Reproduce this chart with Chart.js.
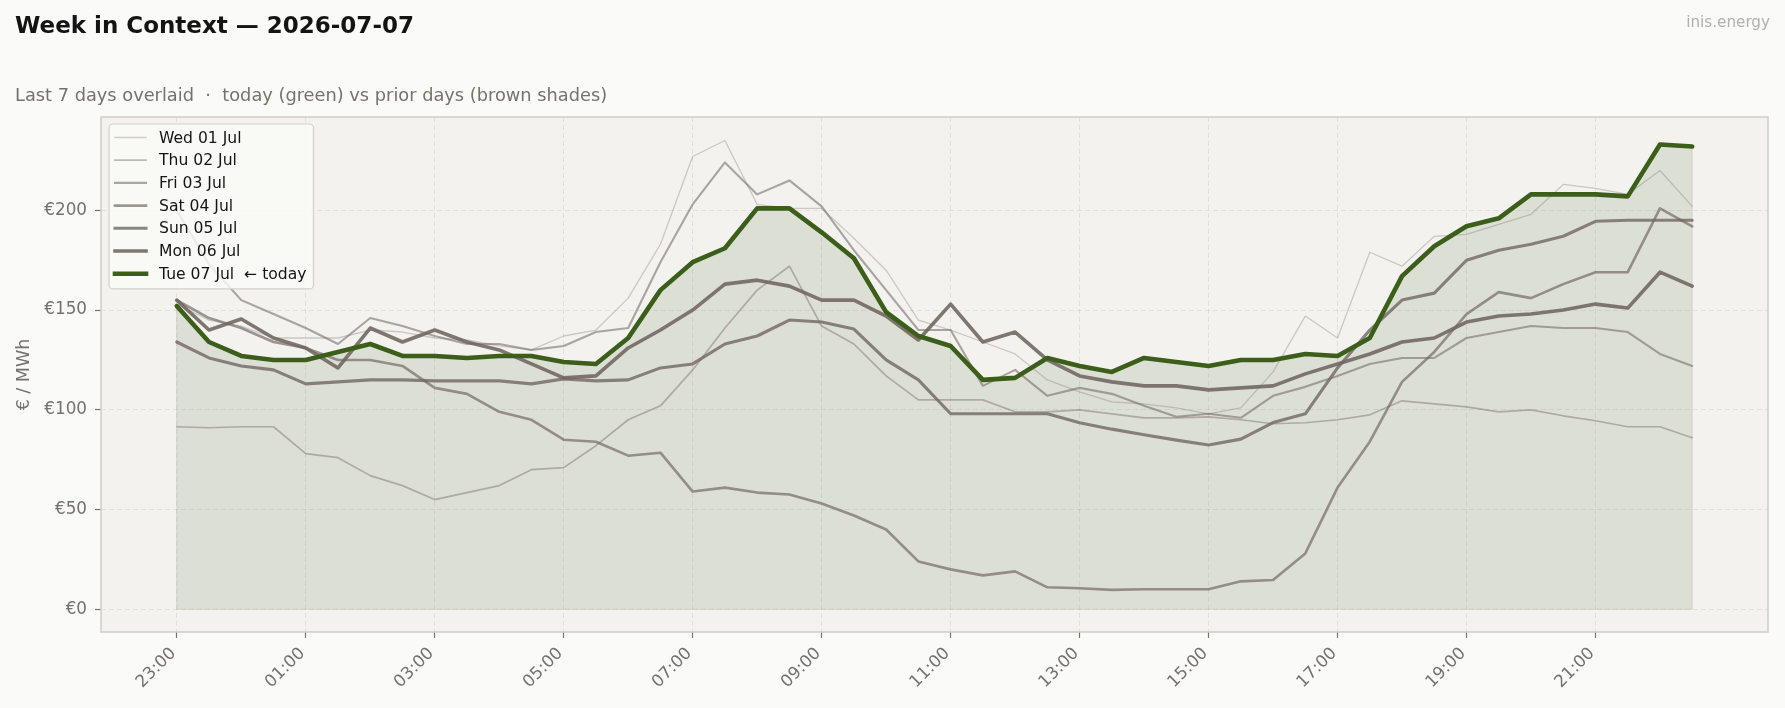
<!DOCTYPE html>
<html>
<head>
<meta charset="utf-8">
<title>Week in Context — 2026-07-07</title>
<script src="https://cdn.jsdelivr.net/npm/chart.js@4.4.1/dist/chart.umd.min.js"></script>
<style>
    html, body { margin: 0; padding: 0; background: #fafaf8; }
    #wrap { position: relative; width: 1785px; height: 708px; }
</style>
</head>
<body>
<div id="wrap"><canvas id="weekChart"></canvas></div>
<script>
(function (global) {
    'use strict';

    // half-hour slots, 23:00 of the day before through 22:30
    var SLOTS = [
        '23:00', '23:30', '00:00', '00:30', '01:00', '01:30', '02:00', '02:30',
        '03:00', '03:30', '04:00', '04:30', '05:00', '05:30', '06:00', '06:30',
        '07:00', '07:30', '08:00', '08:30', '09:00', '09:30', '10:00', '10:30',
        '11:00', '11:30', '12:00', '12:30', '13:00', '13:30', '14:00', '14:30',
        '15:00', '15:30', '16:00', '16:30', '17:00', '17:30', '18:00', '18:30',
        '19:00', '19:30', '20:00', '20:30', '21:00', '21:30', '22:00', '22:30'
    ];

    var X_TICK_LABELS = ['23:00', '01:00', '03:00', '05:00', '07:00', '09:00',
        '11:00', '13:00', '15:00', '17:00', '19:00', '21:00'];
    var Y_TICKS = [0, 50, 100, 150, 200];

    var DAY_LABELS = ['Wed 01 Jul', 'Thu 02 Jul', 'Fri 03 Jul', 'Sat 04 Jul',
        'Sun 05 Jul', 'Mon 06 Jul', 'Tue 07 Jul  \u2190 today'];

    // €/MWh per slot
    var WED_01 = [153, 145, 142, 136, 136, 136, 140, 139, 136, 135, 132, 130,
        137, 140, 156, 183, 227, 235, 203, 201, 201, 186, 170, 145,
        140, 134, 128, 115, 109, 104, 103, 101, 98, 101, 119, 147,
        136, 179, 172, 187, 188, 193, 198, 213, 211, 208, 220, 202];
    var THU_02 = [91.5, 91, 91.5, 91.5, 78, 76, 67, 62, 55, 58.5, 62, 70,
        71, 82, 95, 102, 120, 141, 160, 172, 142, 133, 117, 105,
        105, 105, 99, 99, 100, 98, 96, 96, 96.5, 95, 93, 93.5,
        95, 97.5, 104.5, 103, 101.5, 99, 100, 97, 94.5, 91.5, 91.5, 86];
    var FRI_03 = [200, 173, 155, 148, 141, 133, 146, 142, 137, 133, 133, 130,
        132, 139, 141, 174, 203, 224, 208, 215, 202, 180, 160, 140,
        140, 112, 120, 107, 111, 108, 102, 96.5, 98, 96, 107, 111.5,
        117, 123, 126, 126, 136, 139, 142, 141, 141, 139, 128, 122];
    var SAT_04 = [155, 146, 141, 134, 131, 125, 125, 122, 111, 108, 99, 95,
        85, 84, 77, 78.5, 59, 61, 58.5, 57.5, 53, 47, 40, 24,
        20, 17, 19, 11, 10.5, 9.7, 10, 10, 10, 14, 14.7, 28,
        61, 84, 114, 129, 148, 159, 156, 163, 169, 169, 201, 192];
    var SUN_05 = [134, 126, 122, 120, 113, 114, 115, 115, 114.5, 114.5, 114.5, 113,
        115.5, 114.5, 115, 121, 123, 133, 137, 145, 144, 140.5, 125, 115,
        98, 98, 98, 98, 93.5, 90.3, 87.5, 84.8, 82.4, 85.3, 93.6, 98,
        121, 140, 155, 158.5, 175, 180, 183, 187, 194.5, 195, 195, 195];
    var MON_06 = [155, 140, 145.5, 136, 131, 121, 141, 134, 140, 134, 130, 123,
        116, 117, 131, 140, 150, 163, 165, 162, 155, 155, 147, 135,
        153, 134, 139, 125, 117, 114, 112, 112, 110, 111, 112, 118,
        123, 128, 134, 136, 144, 147, 148, 150, 153, 151, 169, 162];
    var TUE_07 = [152, 134, 127, 125, 125, 129, 133, 127, 127, 126, 127, 127,
        124, 123, 136, 160, 174, 181, 201, 201, 189, 176, 149, 137,
        132, 115, 116, 126, 122, 119, 126, 124, 122, 125, 125, 128,
        127, 136, 167, 182, 192, 196, 208, 208, 208, 207, 233, 232];

    var DAY_VALUES = [WED_01, THU_02, FRI_03, SAT_04, SUN_05, MON_06, TUE_07];

    // styles: older days lighter and thinner
    var LINE_COLORS = [
        'rgba(112, 102, 96, 0.30)',
        'rgba(112, 102, 96, 0.43)',
        'rgba(112, 102, 96, 0.56)',
        'rgba(112, 102, 96, 0.68)',
        'rgba(112, 102, 96, 0.80)',
        'rgba(112, 102, 96, 0.89)',
        '#3b5e1b'
    ];
    var LINE_WIDTHS = [1.3, 1.7, 2.1, 2.6, 3.1, 3.6, 4.6];
    var TODAY_FILL = 'rgba(61, 95, 28, 0.125)';

    var FONT = '"DejaVu Sans", "Noto Sans", sans-serif';
    var PAGE_BG = '#fafaf8';
    var PLOT_BG = '#f3f2ee';
    var FRAME = '#d1cdc6';
    var MUTED = '#77716c';
    var GRID = 'rgba(190, 184, 172, 0.35)';
    var TICK_COLOR = '#7a7470';

    var TICK_FONT = 16.8;
    var X_LABEL_PAD = 6;

    function buildDatasets() {
        var sets = [];
        for (var d = 0; d < DAY_VALUES.length; d++) {
            var pts = [];
            for (var i = 0; i < DAY_VALUES[d].length; i++) {
                pts.push({ x: i, y: DAY_VALUES[d][i] });
            }
            var isToday = d === DAY_VALUES.length - 1;
            sets.push({
                label: DAY_LABELS[d],
                data: pts,
                borderColor: LINE_COLORS[d],
                borderWidth: LINE_WIDTHS[d],
                backgroundColor: isToday ? TODAY_FILL : 'transparent',
                fill: isToday ? 'origin' : false,
                pointRadius: 0,
                tension: 0,
                borderJoinStyle: 'round',
                borderCapStyle: 'round',
                order: DAY_VALUES.length - 1 - d
            });
        }
        return sets;
    }

    // page background, plot panel, frame, titles, rotated x labels
    var pagePlugin = {
        id: 'pagePlugin',
        beforeDraw: function (chart) {
            var ctx = chart.ctx;
            var a = chart.chartArea;
            ctx.save();
            ctx.fillStyle = PAGE_BG;
            ctx.fillRect(0, 0, chart.width, chart.height);
            ctx.fillStyle = PLOT_BG;
            ctx.fillRect(a.left, a.top, a.right - a.left, a.bottom - a.top);
            ctx.restore();
        },
        afterDatasetsDraw: function (chart) {
            // faint outline on the sides and base of today's shaded area
            var ctx = chart.ctx;
            var xs = chart.scales.x;
            var ys = chart.scales.y;
            var last = TUE_07.length - 1;
            var x0 = xs.getPixelForValue(0);
            var x1 = xs.getPixelForValue(last);
            var yb = ys.getPixelForValue(0);
            ctx.save();
            ctx.strokeStyle = TODAY_FILL;
            ctx.lineWidth = 1.2;
            ctx.beginPath();
            ctx.moveTo(x0, ys.getPixelForValue(TUE_07[0]));
            ctx.lineTo(x0, yb);
            ctx.lineTo(x1, yb);
            ctx.lineTo(x1, ys.getPixelForValue(TUE_07[last]));
            ctx.stroke();
            ctx.restore();
        },
        afterDraw: function (chart) {
            var ctx = chart.ctx;
            var a = chart.chartArea;
            ctx.save();

            ctx.strokeStyle = FRAME;
            ctx.lineWidth = 1.5;
            ctx.strokeRect(a.left, a.top, a.right - a.left, a.bottom - a.top);

            ctx.textBaseline = 'alphabetic';
            ctx.fillStyle = '#141414';
            ctx.font = 'bold 23px ' + FONT;
            ctx.textAlign = 'left';
            ctx.fillText('Week in Context \u2014 2026-07-07', 15, 33);

            ctx.fillStyle = MUTED;
            ctx.font = '17.8px ' + FONT;
            ctx.fillText('Last 7 days overlaid  \u00b7  today (green) vs prior days (brown shades)', 15, 101);

            ctx.fillStyle = '#b4b0ac';
            ctx.font = '15.2px ' + FONT;
            ctx.textAlign = 'right';
            ctx.fillText('inis.energy', 1770, 27);

            // y axis title
            ctx.save();
            ctx.translate(24, (a.top + a.bottom) / 2);
            ctx.rotate(-Math.PI / 2);
            ctx.textAlign = 'center';
            ctx.textBaseline = 'middle';
            ctx.fillStyle = MUTED;
            ctx.font = '17.5px ' + FONT;
            ctx.fillText('\u20ac / MWh', 0, 0);
            ctx.restore();

            // x tick labels, right end anchored under the tick
            var xs = chart.scales.x;
            var h = TICK_FONT * 1.16;
            var y0 = a.bottom + xs.options.grid.tickLength + X_LABEL_PAD;
            ctx.font = TICK_FONT + 'px ' + FONT;
            ctx.fillStyle = MUTED;
            ctx.textAlign = 'right';
            ctx.textBaseline = 'middle';
            for (var i = 0; i < xs.ticks.length; i++) {
                var px = xs.getPixelForValue(xs.ticks[i].value);
                ctx.save();
                ctx.translate(px - 0.354 * h + 3.5, y0 + 0.354 * h);
                ctx.rotate(-Math.PI / 4);
                ctx.fillText(SLOTS[xs.ticks[i].value], 0, 0);
                ctx.restore();
            }
            ctx.restore();
        }
    };

    // legend box inside the plot, top left
    var legendPlugin = {
        id: 'legendBox',
        afterDatasetsDraw: function (chart) {
            var ctx = chart.ctx;
            var a = chart.chartArea;
            var sets = chart.data.datasets;
            var left = a.left + 8;
            var top = a.top + 7;
            var rowH = 22.7;
            var textX = left + 50;
            ctx.save();
            ctx.font = '15.6px ' + FONT;
            var maxW = 0;
            for (var i = 0; i < sets.length; i++) {
                maxW = Math.max(maxW, ctx.measureText(sets[i].label).width);
            }
            var w = textX - left + maxW + 7;
            var h = rowH * sets.length + 6;

            ctx.beginPath();
            if (ctx.roundRect) {
                ctx.roundRect(left, top, w, h, 4);
            } else {
                ctx.rect(left, top, w, h);
            }
            ctx.fillStyle = 'rgba(250, 250, 248, 0.82)';
            ctx.fill();
            ctx.strokeStyle = '#d5d1ca';
            ctx.lineWidth = 1.2;
            ctx.stroke();

            for (var j = 0; j < sets.length; j++) {
                var cy = top + 13.5 + j * rowH;
                ctx.beginPath();
                ctx.moveTo(left + 6, cy);
                ctx.lineTo(left + 37, cy);
                ctx.lineCap = 'square';
                ctx.strokeStyle = sets[j].borderColor;
                ctx.lineWidth = sets[j].borderWidth;
                ctx.stroke();

                ctx.fillStyle = '#151515';
                ctx.textAlign = 'left';
                ctx.textBaseline = 'middle';
                ctx.fillText(sets[j].label, textX, cy + 1);
            }
            ctx.restore();
        }
    };

    var canvas = document.getElementById('weekChart');
    var chart = new Chart(canvas.getContext('2d'), {
        type: 'line',
        data: { datasets: buildDatasets() },
        options: {
            responsive: true,
            maintainAspectRatio: false,
            animation: false,
            devicePixelRatio: 1,
            layout: { padding: { left: 0, right: 17, top: 117, bottom: 0 } },
            plugins: {
                legend: { display: false },
                tooltip: { enabled: false },
                filler: { drawTime: 'beforeDatasetsDraw' }
            },
            scales: {
                x: {
                    type: 'linear',
                    min: -2.35,
                    max: 49.35,
                    afterBuildTicks: function (scale) {
                        scale.ticks = X_TICK_LABELS.map(function (l) {
                            return { value: SLOTS.indexOf(l) };
                        });
                    },
                    afterFit: function (scale) { scale.height = 76; },
                    grid: {
                        color: GRID,
                        lineWidth: 0.9,
                        drawTicks: true,
                        tickLength: 6,
                        tickWidth: 1.2,
                        tickColor: TICK_COLOR,
                        tickBorderDash: []
                    },
                    border: { display: false, dash: [5, 3] },
                    ticks: { display: false, autoSkip: false }
                },
                y: {
                    min: -11.4,
                    max: 246.8,
                    afterBuildTicks: function (scale) {
                        scale.ticks = Y_TICKS.map(function (v) { return { value: v }; });
                    },
                    afterFit: function (scale) { scale.width = 101; },
                    grid: {
                        color: GRID,
                        lineWidth: 0.9,
                        drawTicks: true,
                        tickLength: 6,
                        tickWidth: 1.2,
                        tickColor: TICK_COLOR,
                        tickBorderDash: []
                    },
                    border: { display: false, dash: [5, 3] },
                    ticks: {
                        padding: 8,
                        color: MUTED,
                        font: { family: FONT, size: TICK_FONT },
                        callback: function (v) { return '\u20ac' + v; }
                    }
                }
            }
        },
        plugins: [pagePlugin, legendPlugin]
    });

    global.weekChart = chart;

})(window);
</script>
</body>
</html>
